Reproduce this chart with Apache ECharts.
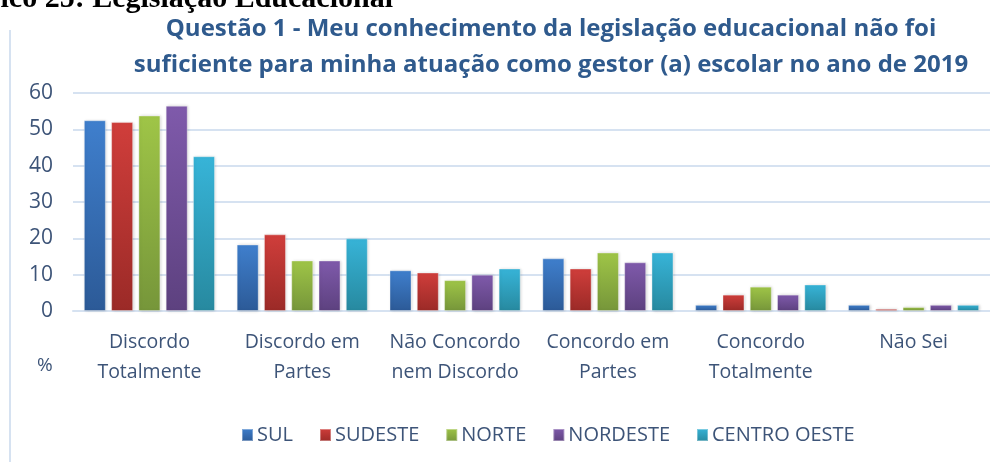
<!DOCTYPE html>
<html>
<head>
<meta charset="utf-8">
<script src="https://cdn.jsdelivr.net/npm/echarts@6/dist/echarts.min.js"></script>
<style>
  html, body { margin: 0; padding: 0; background: #fff; }
  #chart { width: 990px; height: 462px; }
</style>
</head>
<body>
<div id="chart"></div>
<script>
const categories = ['Discordo\nTotalmente', 'Discordo em\nPartes', 'Não Concordo\nnem Discordo', 'Concordo em\nPartes', 'Concordo\nTotalmente', 'Não Sei'];
const regions = ['SUL', 'SUDESTE', 'NORTE', 'NORDESTE', 'CENTRO OESTE'];
const sul = [52.5, 18.3, 11.2, 14.5, 1.7, 1.7];
const sudeste = [52.0, 21.1, 10.6, 11.7, 4.5, 0.6];
const norte = [53.8, 13.9, 8.5, 16.1, 6.7, 1.1];
const nordeste = [56.5, 13.9, 10.0, 13.4, 4.5, 1.7];
const centroOeste = [42.6, 20.0, 11.7, 16.1, 7.3, 1.7];
const yTicks = [0, 10, 20, 30, 40, 50, 60];

const seriesData = [sul, sudeste, norte, nordeste, centroOeste];
// top / bottom colour of each bar gradient
const colors = [
  ['#3f7fcd', '#2c5a97'],
  ['#d03e3b', '#9b2a27'],
  ['#9fc547', '#76963a'],
  ['#7f5aab', '#5d417f'],
  ['#37b4d8', '#27899f']
];
const labelColor = '#3d5478';

const chart = echarts.init(document.getElementById('chart'));

const series = regions.map((name, i) => ({
  name: name,
  type: 'bar',
  data: seriesData[i],
  barWidth: 22,
  barGap: '24%',
  itemStyle: {
    color: new echarts.graphic.LinearGradient(0, 0, 0, 1, [
      {offset: 0, color: colors[i][0]},
      {offset: 1, color: colors[i][1]}
    ]),
    borderColor: 'rgba(255,255,255,0.35)',
    borderWidth: 1,
    shadowColor: 'rgba(0,0,0,0.2)',
    shadowBlur: 3,
    shadowOffsetX: 1
  }
}));

chart.setOption({
  animation: false,
  color: colors.map(c => c[0]),
  title: {
    text: 'Questão 1 - Meu conhecimento da legislação educacional não foi\nsuficiente para minha atuação como gestor (a) escolar no ano de 2019',
    left: 546,
    top: 6,
    textAlign: 'center',
    textStyle: {
      fontFamily: 'Open Sans',
      fontSize: 24,
      fontWeight: 'bold',
      color: '#2f5a8d',
      lineHeight: 36
    }
  },
  legend: {
    data: regions,
    left: 236,
    top: 420,
    icon: 'rect',
    itemWidth: 11,
    itemHeight: 12,
    itemGap: 26,
    textStyle: {
      fontFamily: 'Open Sans',
      fontSize: 20,
      color: labelColor,
      padding: [0, 0, 0, -1]
    }
  },
  grid: {
    left: 73,
    right: -13,
    top: 93,
    bottom: 151
  },
  xAxis: {
    type: 'category',
    data: categories,
    axisLine: {lineStyle: {color: '#d6e2f1', width: 2}},
    axisTick: {show: false},
    axisLabel: {
      interval: 0,
      margin: 16,
      fontFamily: 'Open Sans',
      fontSize: 19.5,
      lineHeight: 30,
      color: labelColor
    }
  },
  yAxis: {
    type: 'value',
    min: yTicks[0],
    max: yTicks[yTicks.length - 1],
    interval: 10,
    axisLine: {show: false},
    axisTick: {show: false},
    splitLine: {lineStyle: {color: '#d6e2f1', width: 2}},
    axisLabel: {
      margin: 20,
      fontFamily: 'Open Sans',
      fontSize: 21,
      color: labelColor
    }
  },
  graphic: [
    {
      type: 'text',
      x: 393,
      y: 14,
      style: {
        text: 'Gráfico 25: Legislação Educacional',
        font: 'bold 30px "Liberation Serif"',
        fill: '#000',
        align: 'right',
        verticalAlign: 'bottom'
      }
    },
    {
      type: 'line',
      shape: {x1: 10, y1: 30, x2: 10, y2: 462},
      style: {stroke: '#d6e2f1', lineWidth: 2}
    },
    {
      type: 'text',
      left: 37,
      top: 356,
      style: {
        text: '%',
        font: '19px "Open Sans"',
        fill: labelColor
      }
    }
  ],
  series: series
});
</script>
</body>
</html>
